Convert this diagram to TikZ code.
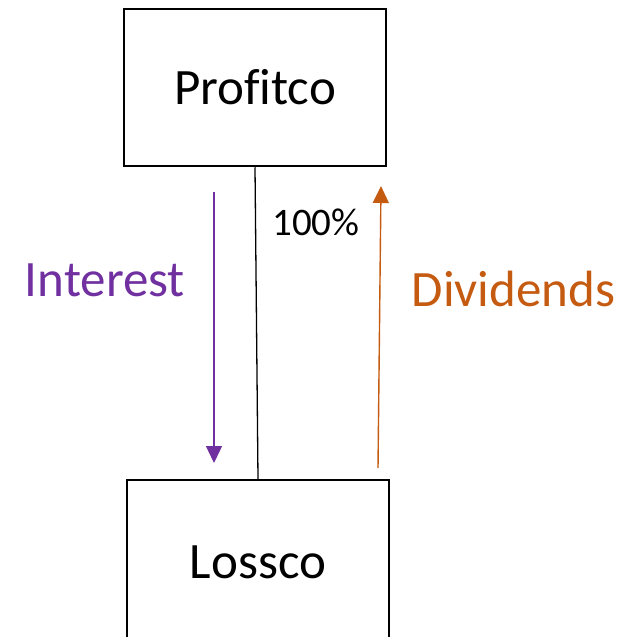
\documentclass[tikz,border=0pt]{standalone}
\usepackage{fontspec}
\setmainfont{Carlito}[Ligatures=NoCommon]
\usetikzlibrary{arrows.meta}
\definecolor{intpurple}{HTML}{7030A0}
\definecolor{divorange}{HTML}{C55A11}
\tikzset{
  company/.style={draw=black, line width=2.5pt, minimum width=262pt, inner sep=0pt,
    font=\fontsize{51}{60}\selectfont},
  flow/.style={line width=1.4pt, -{Triangle[width=16pt,length=17pt]}},
  tag/.style={inner sep=0pt, anchor=base}
}
\begin{document}
\begin{tikzpicture}[x=1pt,y=-1pt]
  \useasboundingbox (0,0) rectangle (635,637);
  \clip (0,0) rectangle (635,637);
  % companies
  \node[company, minimum height=157pt] (profitco) at (255,87.5) {Profitco};
  \node[company, minimum height=180pt] (lossco) at (258,570) {};
  \node[tag, font=\fontsize{51}{60}\selectfont] (losslbl) at (258,578) {Lossco};
  % ownership link
  \draw[line width=1.3pt] (profitco.south) -- (lossco.north);
  \node[tag, font=\fontsize{39}{46}\selectfont] (pct) at (316,235) {100\%};
  % interest flow
  \coordinate (intA) at (214,192);
  \coordinate (intB) at (214,463);
  \draw[flow, draw=intpurple, fill=intpurple] (intA) -- (intB);
  \node[tag, text=intpurple, font=\fontsize{51}{60}\selectfont] (intlbl) at (105,296) {Interest};
  % dividend flow
  \coordinate (divA) at (378,468);
  \coordinate (divB) at (381,186);
  \draw[flow, draw=divorange, fill=divorange] (divA) -- (divB);
  \node[tag, text=divorange, font=\fontsize{51}{60}\selectfont] (divlbl) at (513.5,306) {Dividends};
\end{tikzpicture}
\end{document}
